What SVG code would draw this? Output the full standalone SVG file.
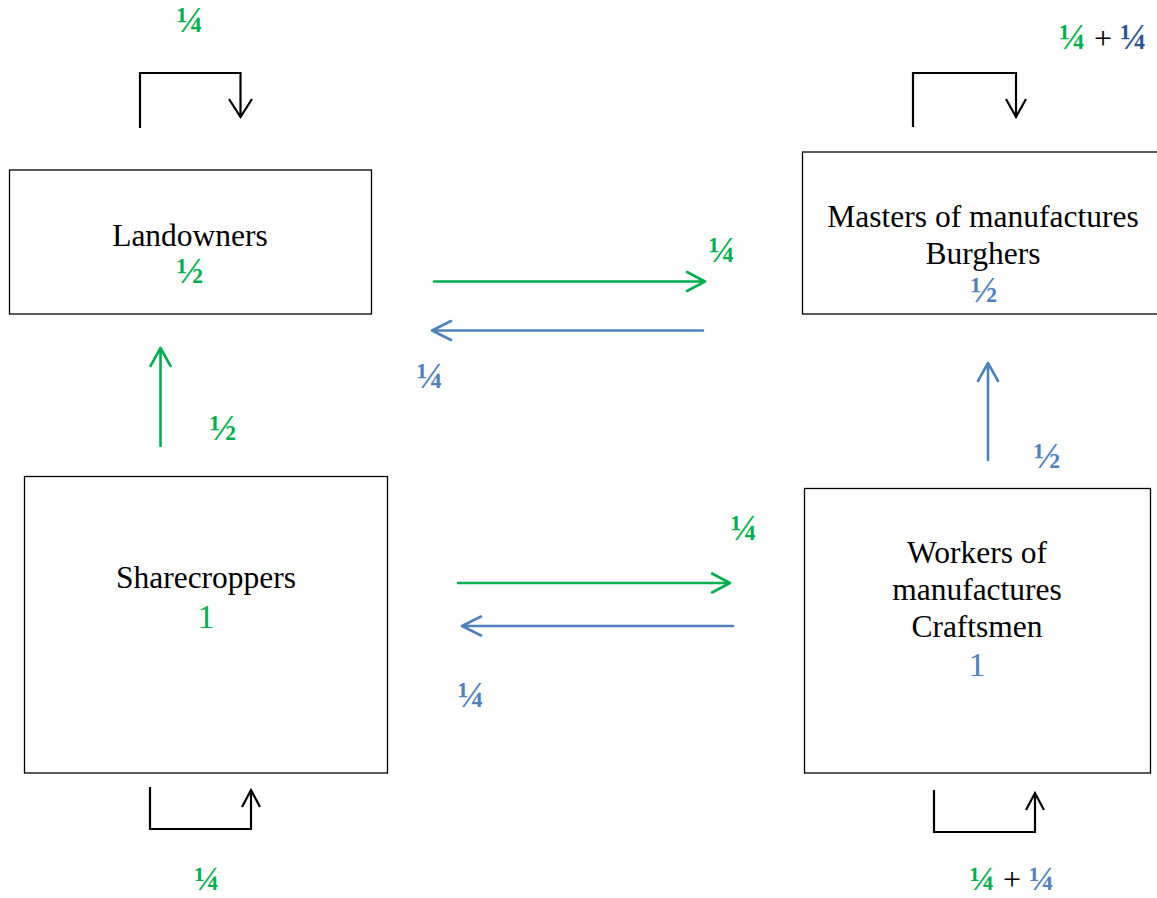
<svg xmlns="http://www.w3.org/2000/svg" width="1157" height="898" viewBox="0 0 1157 898">
  <style>
    .box { fill: #ffffff; stroke: #000000; stroke-width: 1.3; }
    .lbl { font-family: "Liberation Serif", "Times New Roman", serif; font-size: 31.5px; fill: #000000; text-anchor: middle; }
    .frac { font-family: "Liberation Serif", "Times New Roman", serif; font-size: 36px; font-weight: bold; text-anchor: middle; }
    .bot { font-size: 34px; }
    .plus { font-weight: normal; font-size: 32px; fill: #000000; }
    .num { font-family: "Liberation Serif", "Times New Roman", serif; font-size: 34px; text-anchor: middle; }
    .g { fill: #00B050; }
    .b { fill: #4F81BD; }
    .db { fill: #2F5496; }
    .loop { fill: none; stroke: #000000; stroke-width: 2.2; }
    .ga { fill: none; stroke: #00B050; stroke-width: 2.6; stroke-linecap: round; stroke-linejoin: round; }
    .ba { fill: none; stroke: #4F81BD; stroke-width: 2.6; stroke-linecap: round; stroke-linejoin: round; }
  </style>
  <rect width="1157" height="898" fill="#ffffff"/>

  <g id="landowners">
    <rect class="box" x="9.5" y="170" width="362" height="144"/>
    <text class="lbl" x="190" y="246">Landowners</text>
    <text class="frac g" x="190" y="283">½</text>
  </g>

  <g id="masters">
    <rect class="box" x="802.5" y="152" width="370" height="162"/>
    <text class="lbl" x="983" y="227">Masters of manufactures</text>
    <text class="lbl" x="983" y="264">Burghers</text>
    <text class="frac b" x="984" y="302">½</text>
  </g>

  <g id="sharecroppers">
    <rect class="box" x="24.5" y="476.5" width="363" height="296.5"/>
    <text class="lbl" x="206" y="588">Sharecroppers</text>
    <text class="num g" x="206" y="628">1</text>
  </g>

  <g id="workers">
    <rect class="box" x="804.5" y="488.5" width="346" height="284.5"/>
    <text class="lbl" x="977" y="563">Workers of</text>
    <text class="lbl" x="977" y="600">manufactures</text>
    <text class="lbl" x="977" y="637">Craftsmen</text>
    <text class="num b" x="977" y="676">1</text>
  </g>

  <g id="connectors">
    <path class="loop" d="M140,128 V73 H240.5 V117 M229,99 L240.5,117 L252,99"/>
    <path class="loop" d="M913,127 V73 H1016 V117 M1006,99 L1016,117 L1026,99"/>
    <path class="loop" d="M150,787 V829 H251 V790 M242,807 L251,790 L260,807"/>
    <path class="loop" d="M934,790 V832 H1035 V793 M1026,810 L1035,793 L1044,810"/>

    <path class="ga" d="M434,281.5 H705 M687,272 L705,281.5 L687,291"/>
    <path class="ba" d="M703,330.5 H432 M451,321 L432,330.5 L451,340"/>
    <path class="ga" d="M458,583 H730 M712,573.5 L730,583 L712,592.5"/>
    <path class="ba" d="M733,626 H462 M481,616.5 L462,626 L481,635.5"/>
    <path class="ga" d="M160.5,446 V348 M150.5,366 L160.5,348 L170.5,366"/>
    <path class="ba" d="M988,460 V363 M978,381 L988,363 L998,381"/>
  </g>

  <g id="labels">
    <text class="frac g" x="190" y="32">¼</text>
    <text class="frac" x="1103" y="49"><tspan class="g">¼</tspan><tspan class="plus"> + </tspan><tspan class="db">¼</tspan></text>
    <text class="frac g" x="722" y="262">¼</text>
    <text class="frac b" x="430" y="388">¼</text>
    <text class="frac g" x="223" y="440">½</text>
    <text class="frac b" x="1047" y="468">½</text>
    <text class="frac g" x="744" y="540">¼</text>
    <text class="frac b" x="471" y="707">¼</text>
    <text class="frac bot g" x="207" y="890">¼</text>
    <text class="frac bot" x="1012" y="890"><tspan class="g">¼</tspan><tspan class="plus"> + </tspan><tspan class="b">¼</tspan></text>
  </g>
</svg>
